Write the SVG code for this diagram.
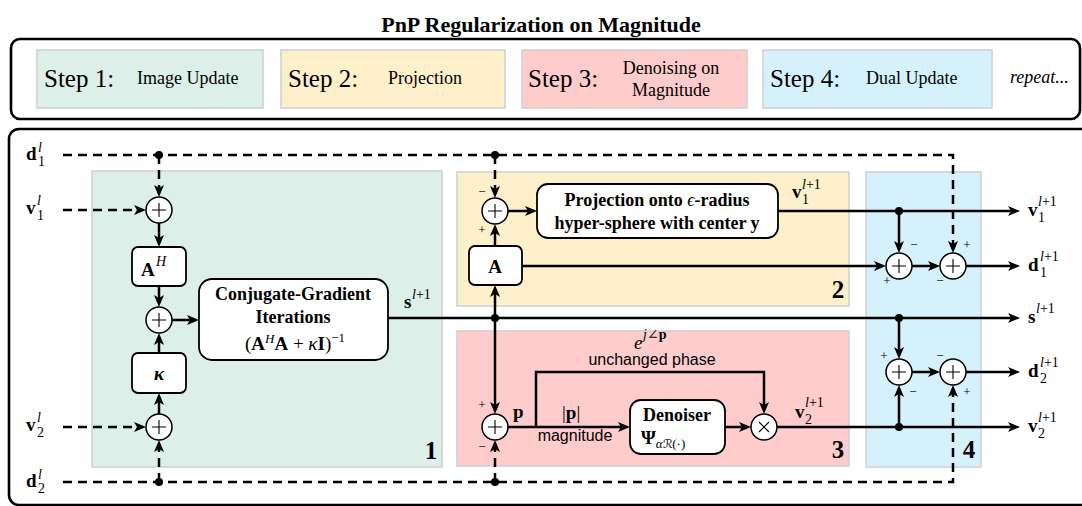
<svg xmlns="http://www.w3.org/2000/svg" width="1082" height="506" viewBox="0 0 1082 506">
  <style>
    .frame { fill: none; stroke: #000; stroke-width: 2.6; }
    .stage { stroke: #cfcfcf; stroke-width: 1.5; }
    .g { fill: #dcefe8; }
    .y { fill: #fff0cc; }
    .r { fill: #ffcccc; }
    .b { fill: #d4f1fc; }
    .blk { fill: #fff; stroke: #000; stroke-width: 1.8; }
    .sum { fill: #fff; stroke: #000; stroke-width: 1.5; }
    .sym { stroke: #000; stroke-width: 1.1; fill: none; }
    .w { fill: none; stroke: #000; stroke-width: 2.5; }
    .d { fill: none; stroke: #000; stroke-width: 2.5; stroke-dasharray: 9 6; }
    .a { marker-end: url(#ah); }
    .dot { fill: #000; }
    text { font-family: "Liberation Serif", "DejaVu Serif", serif; fill: #000; }
    .ttl { font-size: 22px; font-weight: bold; }
    .stp { font-size: 25px; }
    .dsc { font-size: 18px; }
    .m { font-size: 19px; font-weight: bold; }
    .sc { font-size: 14px; }
    .it { font-style: italic; }
    .bl { font-size: 18px; font-weight: bold; }
    .sg { font-size: 13px; text-anchor: middle; }
    .num { font-size: 25px; font-weight: bold; text-anchor: middle; }
    .sans { font-family: "Liberation Sans", Arial, sans-serif; font-size: 16px; text-anchor: middle; }
  </style>
  <defs>
    <marker id="ah" viewBox="0 0 12 10" refX="8" refY="5" markerWidth="12" markerHeight="10" markerUnits="userSpaceOnUse" orient="auto">
      <path d="M0,0 L12,5 L0,10 L3,5 Z" fill="#000"/>
    </marker>
    <g id="plus"><circle class="sum" r="13"/><path class="sym" d="M-7,0 H7 M0,-7 V7"/></g>
    <g id="times"><circle class="sum" r="13"/><path class="sym" d="M-5,-5 L5,5 M-5,5 L5,-5"/></g>
  </defs>

  <rect width="1082" height="506" fill="#fff"/>

  <!-- title -->
  <text class="ttl" x="541" y="32" text-anchor="middle">PnP Regularization on Magnitude</text>

  <!-- legend strip -->
  <g id="legend">
    <rect class="frame" x="11" y="39" width="1069" height="80" rx="9"/>
    <rect class="stage g" x="37" y="50" width="226" height="58"/>
    <text class="stp" x="44" y="87">Step 1:</text>
    <text class="dsc" x="137" y="84">Image Update</text>
    <rect class="stage y" x="281" y="50" width="224" height="58"/>
    <text class="stp" x="288" y="87">Step 2:</text>
    <text class="dsc" x="388" y="84">Projection</text>
    <rect class="stage r" x="522" y="50" width="225" height="58"/>
    <text class="stp" x="528" y="87">Step 3:</text>
    <text class="dsc" x="671" y="74" text-anchor="middle">Denoising on</text>
    <text class="dsc" x="671" y="96" text-anchor="middle">Magnitude</text>
    <rect class="stage b" x="763" y="50" width="229" height="58"/>
    <text class="stp" x="770" y="87">Step 4:</text>
    <text class="dsc" x="866" y="84">Dual Update</text>
    <text class="dsc it" x="1010" y="83">repeat...</text>
  </g>

  <!-- main frame -->
  <rect class="frame" x="9" y="129" width="1090" height="376" rx="10"/>

  <!-- stage backgrounds -->
  <g id="stage1"><rect class="stage g" x="92" y="171" width="350" height="296"/><text class="num" x="431" y="459">1</text></g>
  <g id="stage2"><rect class="stage y" x="457" y="172" width="392" height="134"/><text class="num" x="838" y="298">2</text></g>
  <g id="stage3"><rect class="stage r" x="457" y="331" width="392" height="135"/><text class="num" x="838" y="458">3</text></g>
  <g id="stage4"><rect class="stage b" x="866" y="172" width="115" height="295"/><text class="num" x="969" y="458">4</text></g>

  <!-- connectors -->
  <g id="connectors">
    <path class="d a" d="M63,155 H953 V249"/>
    <path class="d a" d="M63,210 H142"/>
    <path class="d a" d="M159,155 V193"/>
    <path class="w a" d="M159,223 V243"/>
    <path class="w a" d="M159,286 V303"/>
    <path class="w a" d="M159,353 V337"/>
    <path class="w a" d="M159,414 V397"/>
    <path class="d a" d="M63,427 H142"/>
    <path class="d a" d="M63,482 H953 V389"/>
    <path class="d a" d="M159,482 V444"/>
    <path class="d a" d="M495,482 V444"/>
    <path class="w a" d="M172,320 H195"/>
    <path class="w a" d="M388,318 H1016"/>
    <path class="w a" d="M495,318 V289"/>
    <path class="w a" d="M495,246 V228"/>
    <path class="d a" d="M495,155 V194"/>
    <path class="w a" d="M508,211 H533"/>
    <path class="w a" d="M778,211 H1016"/>
    <path class="w a" d="M899,211 V249"/>
    <path class="w a" d="M522,266 H882"/>
    <path class="w a" d="M912,266 H936"/>
    <path class="w a" d="M966,266 H1016"/>
    <path class="w a" d="M899,318 V355"/>
    <path class="w a" d="M912,372 H936"/>
    <path class="w a" d="M966,372 H1016"/>
    <path class="w a" d="M899,427 V389"/>
    <path class="w a" d="M495,318 V410"/>
    <path class="w a" d="M508,427 H626"/>
    <path class="w a" d="M536,427 V372 H764 V410"/>
    <path class="w a" d="M725,427 H747"/>
    <path class="w a" d="M777,427 H1016"/>
    <circle class="dot" cx="159" cy="155" r="4"/>
    <circle class="dot" cx="495" cy="155" r="4"/>
    <circle class="dot" cx="159" cy="482" r="4"/>
    <circle class="dot" cx="495" cy="482" r="4"/>
    <circle class="dot" cx="495" cy="318" r="4"/>
    <circle class="dot" cx="899" cy="211" r="4"/>
    <circle class="dot" cx="899" cy="318" r="4"/>
    <circle class="dot" cx="899" cy="427" r="4"/>
  </g>

  <!-- image update -->
  <g id="sum-v1"><use href="#plus" x="159" y="210"/></g>
  <g id="AH">
    <rect class="blk" x="132" y="247" width="54" height="39" rx="6"/>
    <text class="m" x="141" y="276" font-size="20">A</text><text class="it" x="156" y="266" font-size="14">H</text>
  </g>
  <g id="sum-mid"><use href="#plus" x="159" y="320"/></g>
  <g id="kappa">
    <rect class="blk" x="132" y="353" width="54" height="40" rx="6"/>
    <text class="m it" x="159" y="380" text-anchor="middle">κ</text>
  </g>
  <g id="sum-v2"><use href="#plus" x="159" y="427"/></g>
  <g id="cg">
    <rect class="blk" x="199" y="279" width="189" height="81" rx="13"/>
    <text class="bl" x="293" y="300" text-anchor="middle">Conjugate-Gradient</text>
    <text class="bl" x="293" y="323" text-anchor="middle">Iterations</text>
    <text x="295" y="350" font-size="19" text-anchor="middle">(<tspan font-weight="bold">A</tspan><tspan class="it" font-size="13" dy="-7">H</tspan><tspan font-weight="bold" dy="7">A</tspan> + <tspan class="it">κ</tspan><tspan font-weight="bold">I</tspan>)<tspan font-size="13" dy="-8">−1</tspan></text>
  </g>

  <!-- projection -->
  <g id="sum-proj"><use href="#plus" x="495" y="211"/>
    <text class="sg" x="482" y="196">−</text><text class="sg" x="482" y="234">+</text></g>
  <g id="A">
    <rect class="blk" x="469" y="246" width="53" height="39" rx="6"/>
    <text class="m" x="495" y="273" font-size="20" text-anchor="middle">A</text>
  </g>
  <g id="proj">
    <rect class="blk" x="537" y="184" width="241" height="54" rx="11"/>
    <text class="bl" x="657" y="206" text-anchor="middle">Projection onto <tspan class="it" font-weight="normal">ϵ</tspan>-radius</text>
    <text class="bl" x="657" y="229" text-anchor="middle">hyper-sphere with center y</text>
  </g>

  <!-- denoising on magnitude -->
  <g id="sum-p"><use href="#plus" x="495" y="427"/>
    <text class="sg" x="482" y="409">+</text><text class="sg" x="482" y="451">−</text></g>
  <g id="den">
    <rect class="blk" x="630" y="400" width="95" height="54" rx="11"/>
    <text class="bl" x="677" y="421" text-anchor="middle">Denoiser</text>
    <text x="641" y="444" font-size="19" font-weight="bold">Ψ<tspan font-weight="normal" font-size="13" dy="4"><tspan class="it">α</tspan><tspan font-family="'DejaVu Sans', sans-serif" font-size="12">ℛ</tspan>(·)</tspan></text>
  </g>
  <g id="mult"><use href="#times" x="764" y="427"/></g>

  <!-- dual update -->
  <g id="sum-d1a"><use href="#plus" x="899" y="266"/>
    <text class="sg" x="914" y="249">−</text><text class="sg" x="887" y="285">+</text></g>
  <g id="sum-d1b"><use href="#plus" x="953" y="266"/>
    <text class="sg" x="967" y="249">+</text><text class="sg" x="940" y="285">−</text></g>
  <g id="sum-d2a"><use href="#plus" x="899" y="372"/>
    <text class="sg" x="884" y="360">+</text><text class="sg" x="913" y="396">−</text></g>
  <g id="sum-d2b"><use href="#plus" x="953" y="372"/>
    <text class="sg" x="940" y="360">−</text><text class="sg" x="967" y="396">+</text></g>

  <!-- signal labels -->
  <g id="labels">
    <text class="m" x="26" y="160">d</text><text class="sc it" x="38" y="152">l</text><text class="sc" x="38" y="166">1</text>
    <text class="m" x="26" y="214">v</text><text class="sc it" x="37" y="205">l</text><text class="sc" x="37" y="220">1</text>
    <text class="m" x="26" y="431">v</text><text class="sc it" x="37" y="422">l</text><text class="sc" x="37" y="437">2</text>
    <text class="m" x="26" y="487">d</text><text class="sc it" x="38" y="479">l</text><text class="sc" x="38" y="493">2</text>

    <text class="m" x="404" y="308">s</text><text class="sc" x="412" y="299"><tspan class="it">l</tspan>+1</text>
    <text class="m" x="792" y="198">v</text><text class="sc" x="802" y="189"><tspan class="it">l</tspan>+1</text><text class="sc" x="802" y="204">1</text>
    <text class="m" x="795" y="418">v</text><text class="sc" x="805" y="407"><tspan class="it">l</tspan>+1</text><text class="sc" x="805" y="424">2</text>

    <text class="m" x="513" y="418">p</text>
    <text x="562" y="419" font-size="19">|<tspan font-weight="bold">p</tspan>|</text>
    <text class="sans" x="575" y="441">magnitude</text>
    <text class="it" x="634" y="349" font-size="19">e</text><text class="sc" x="643" y="339"><tspan class="it">j</tspan>∠<tspan font-weight="bold">p</tspan></text>
    <text class="sans" x="652" y="365">unchanged phase</text>

    <text class="m" x="1028" y="216">v</text><text class="sc" x="1038" y="206"><tspan class="it">l</tspan>+1</text><text class="sc" x="1038" y="222">1</text>
    <text class="m" x="1028" y="271">d</text><text class="sc" x="1040" y="261"><tspan class="it">l</tspan>+1</text><text class="sc" x="1040" y="277">1</text>
    <text class="m" x="1028" y="323">s</text><text class="sc" x="1036" y="313"><tspan class="it">l</tspan>+1</text>
    <text class="m" x="1028" y="377">d</text><text class="sc" x="1040" y="367"><tspan class="it">l</tspan>+1</text><text class="sc" x="1040" y="383">2</text>
    <text class="m" x="1028" y="432">v</text><text class="sc" x="1038" y="422"><tspan class="it">l</tspan>+1</text><text class="sc" x="1038" y="438">2</text>
  </g>
</svg>
